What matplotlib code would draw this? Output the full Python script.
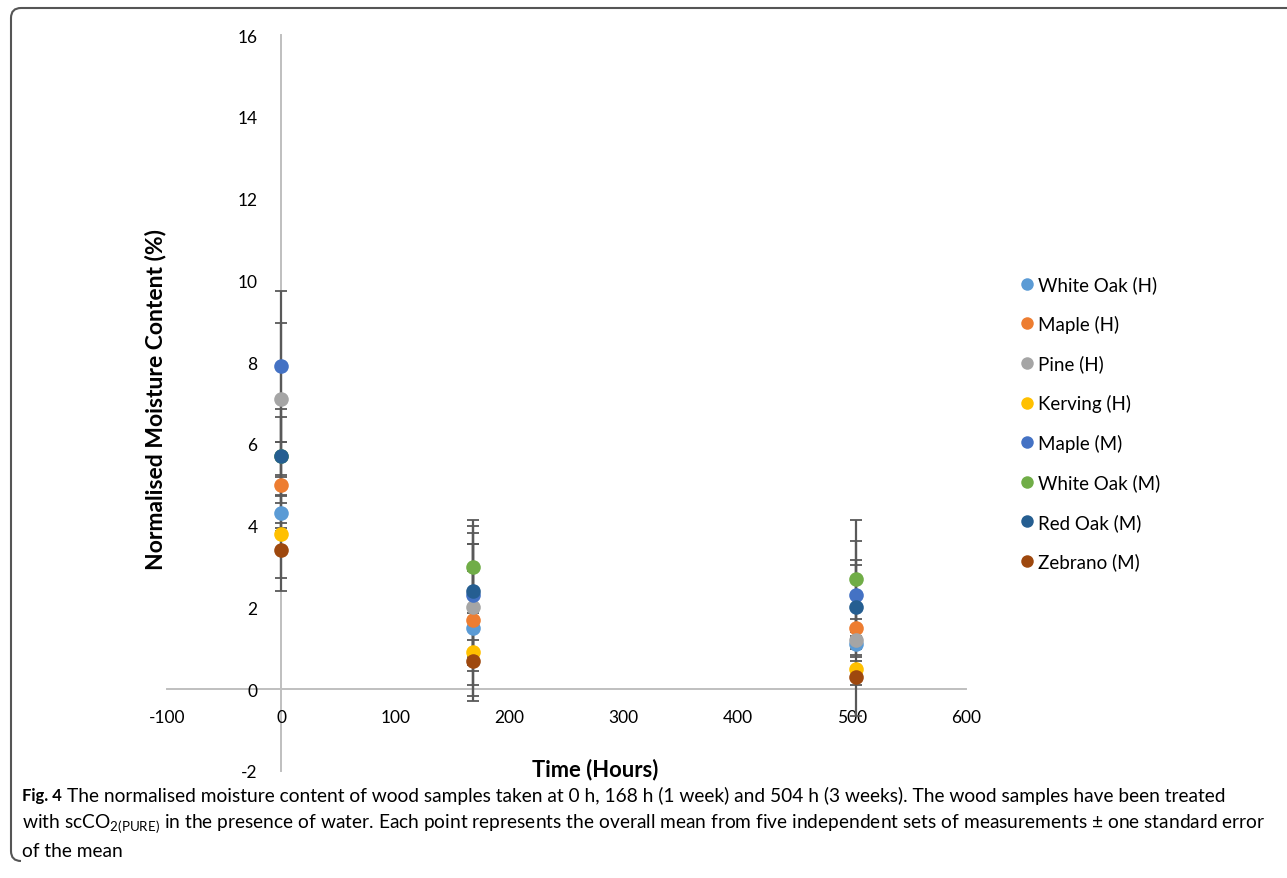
import numpy as np
import matplotlib
matplotlib.use('Agg')
from matplotlib import pyplot as plt
from matplotlib.lines import Line2D
from matplotlib.path import Path
from matplotlib.patches import PathPatch
from matplotlib.transforms import IdentityTransform

# Data
hours = [0, 168, 504]
series = ['White Oak (H)', 'Maple (H)', 'Pine (H)', 'Kerving (H)',
          'Maple (M)', 'White Oak (M)', 'Red Oak (M)', 'Zebrano (M)']
colors = ['#5B9BD5', '#ED7D31', '#A5A5A5', '#FFC000',
          '#4472C4', '#70AD47', '#255E91', '#9E480E']

white_oak_h = [4.3, 1.5, 1.1]
maple_h = [5.0, 1.7, 1.5]
pine_h = [7.1, 2.0, 1.2]
kerving_h = [3.8, 0.9, 0.5]
maple_m = [7.9, 2.3, 2.3]
white_oak_m = [5.7, 3.0, 2.7]
red_oak_m = [5.7, 2.4, 2.0]
zebrano_m = [3.4, 0.7, 0.3]

white_oak_h_err = [0.43, 1.39, 0.30]
maple_h_err = [1.05, 1.86, 0.21]
pine_h_err = [1.85, 1.56, 1.85]
kerving_h_err = [1.40, 0.30, 0.20]
maple_m_err = [1.85, 1.52, 1.32]
white_oak_m_err = [0.96, 1.14, 1.44]
red_oak_m_err = [1.15, 1.58, 1.17]
zebrano_m_err = [0.67, 1.00, 0.20]

values = [white_oak_h, maple_h, pine_h, kerving_h, maple_m, white_oak_m, red_oak_m, zebrano_m]
errors = [white_oak_h_err, maple_h_err, pine_h_err, kerving_h_err,
          maple_m_err, white_oak_m_err, red_oak_m_err, zebrano_m_err]

caption1 = 'The normalised moisture content of wood samples taken at 0 h, 168 h (1 week) and 504 h (3 weeks). The wood samples have been treated'
caption2 = 'with scCO$_{\\mathregular{2(PURE)}}$ in the presence of water. Each point represents the overall mean from five independent sets of measurements \u00b1 one standard error'
caption3 = 'of the mean'

plt.rcParams['font.family'] = ['Lato', 'DejaVu Sans']
plt.rcParams['axes.unicode_minus'] = False

W, H = 1287, 879
fig = plt.figure(figsize=(W / 100, H / 100), dpi=100)
ax = fig.add_axes([167 / W, 1 - 772 / H, (966 - 167) / W, (772 - 36) / H])

# error bars over the axis line, points on top
for v, e in zip(values, errors):
    ax.errorbar(hours, v, yerr=e, fmt='none', ecolor='#595959', elinewidth=1.6,
                capsize=4, capthick=1.3, zorder=3)
for v, c, name in zip(values, colors, series):
    ax.plot(hours, v, 'o', color=c, markersize=10.5, markeredgewidth=0, label=name, zorder=4)

ax.set_xlim(-100, 600)
ax.set_ylim(-2, 16)
ax.set_xticks(np.arange(-100, 601, 100))
ax.set_yticks(np.arange(-2, 17, 2))
for s in ['top', 'right']:
    ax.spines[s].set_visible(False)
for s in ['left', 'bottom']:
    ax.spines[s].set_position(('data', 0))
    ax.spines[s].set_color('#BFBFBF')
    ax.spines[s].set_linewidth(1.4)
    ax.spines[s].set_zorder(1)
ax.tick_params(axis='both', length=0, labelsize=12.5, colors='black')
ax.tick_params(axis='y', pad=17)
ax.tick_params(axis='x', pad=14)
ax.patch.set_alpha(0)

fig.text(595 / W, 1 - 770 / H, 'Time (Hours)', ha='center', va='center',
         fontsize=15.8, fontweight='bold')
fig.text(155 / W, 1 - 400 / H, 'Normalised Moisture Content (%)', ha='center', va='center',
         rotation=90, fontsize=16.5, fontweight='bold')

handles = [Line2D([], [], marker='o', linestyle='none', color=c, markersize=9,
                  markeredgewidth=0) for c in colors]
fig.legend(handles, series, loc='upper left', bbox_to_anchor=(1010 / W, 1 - 269 / H),
           frameon=False, fontsize=13.5, handletextpad=0.1, handlelength=1.0,
           labelspacing=1.15, borderaxespad=0)

# caption, sized so the lines span the same width as the reference
cap = dict(family=['Lato', 'DejaVu Sans'], va='center')
fig.text(22 / W, 1 - 796 / H, 'Fig. 4', fontweight='bold', fontsize=12, **cap)
t1 = fig.text(67 / W, 1 - 796 / H, caption1, fontsize=13, **cap)
t2 = fig.text(22 / W, 1 - 824 / H, caption2, fontsize=13, **cap)
t3 = fig.text(22 / W, 1 - 852 / H, caption3, fontsize=13, **cap)
fig.canvas.draw()
size = min(13 * (1263 - 67) / t1.get_window_extent().width,
           13 * (1262 - 22) / t2.get_window_extent().width)
for t in (t1, t2, t3):
    t.set_fontsize(size)

# rounded frame (pixel coords, origin bottom-left)
x0, ytop, ybot, r = 11, H - 9, H - 862, 10
verts = [(x0 + r, ybot), (x0, ybot), (x0, ybot + r), (x0, ytop - r), (x0, ytop), (x0 + r, ytop), (W + 5, ytop)]
codes = [Path.MOVETO, Path.CURVE3, Path.CURVE3, Path.LINETO, Path.CURVE3, Path.CURVE3, Path.LINETO]
frame = PathPatch(Path(verts, codes), facecolor='none', edgecolor='#555555', lw=1.5,
                  transform=IdentityTransform())
fig.patches.append(frame)

fig.savefig('out.png', dpi=100)
